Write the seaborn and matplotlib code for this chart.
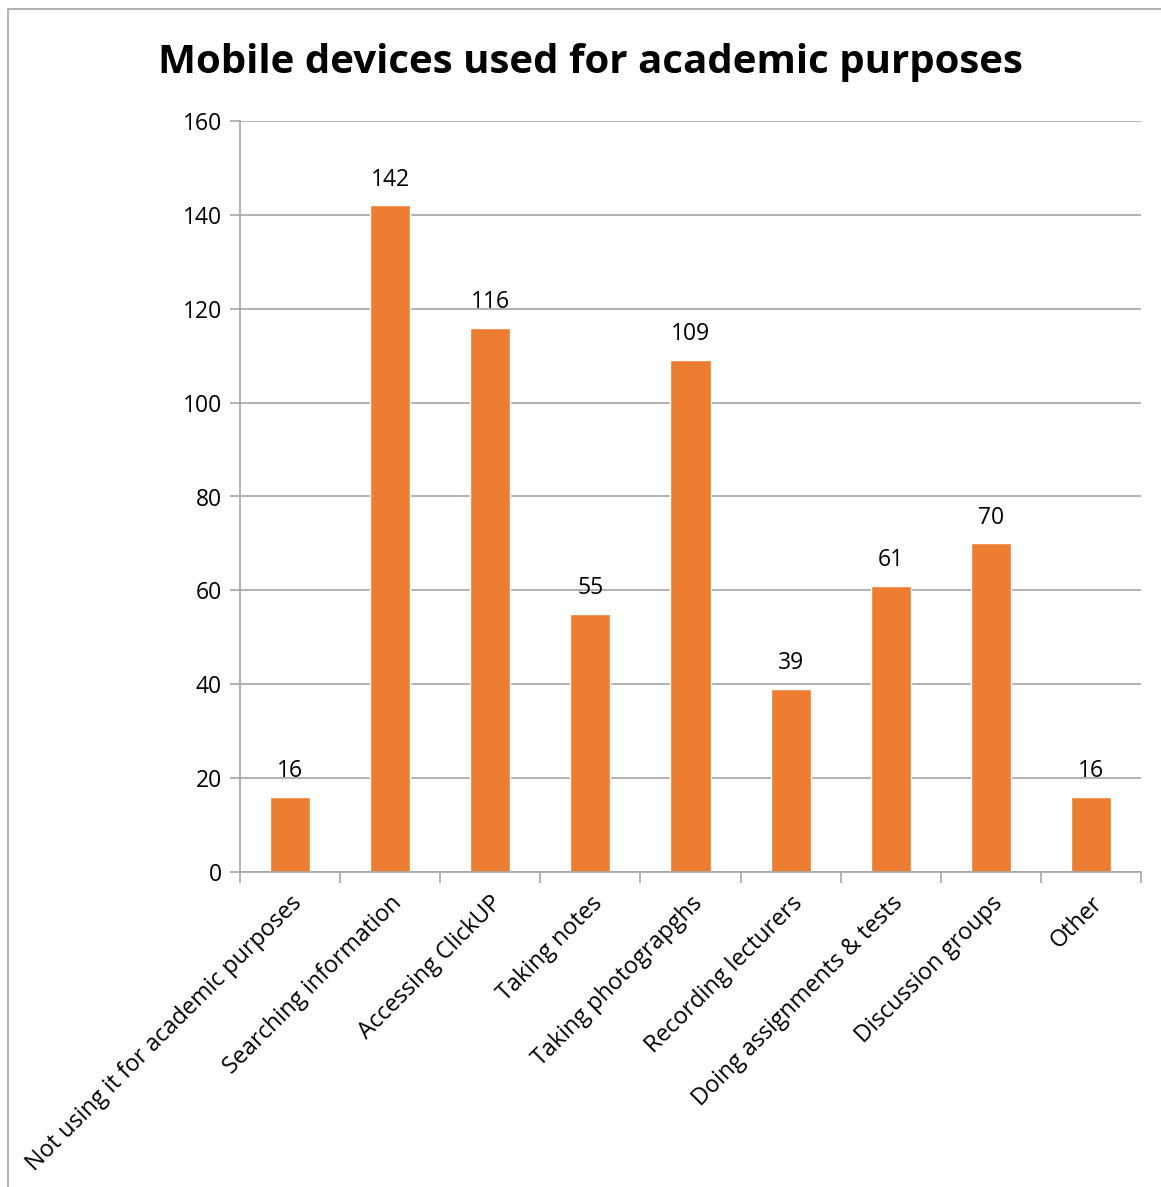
import matplotlib
matplotlib.use("Agg")
import matplotlib.pyplot as plt
import seaborn as sns
import pandas as pd
import numpy as np
from matplotlib.patches import Rectangle

categories = ["Not using it for academic purposes", "Searching information", "Accessing ClickUP",
              "Taking notes", "Taking photograpghs", "Recording lecturers",
              "Doing assignments & tests", "Discussion groups", "Other"]
values = [16, 142, 116, 55, 109, 39, 61, 70, 16]
y_ticks = [0, 20, 40, 60, 80, 100, 120, 140, 160]
title = "Mobile devices used for academic purposes"

sns.set_theme(style="white")
plt.rcParams['font.family'] = ['Open Sans', 'DejaVu Sans']
plt.rcParams['text.color'] = 'black'
plt.rcParams['xtick.color'] = 'black'
plt.rcParams['ytick.color'] = 'black'

W, H = 1161, 1187
fig = plt.figure(figsize=(W/100, H/100), dpi=100)
ax = fig.add_axes([240/W, 1-872/H, (1141-240)/W, (872-121)/H])

df = pd.DataFrame({"cat": categories, "val": values})
sns.barplot(data=df, x="cat", y="val", color="#ED7D31", width=0.4, saturation=1, ax=ax)

ax.set_ylim(0, 160)
ax.set_xlim(-0.5, len(categories)-0.5)
ax.set_yticks(y_ticks)
ax.yaxis.grid(True, color="#A6A6A6", linewidth=1.2)
ax.set_axisbelow(True)
ax.set_xlabel("")
ax.set_ylabel("")
for s in ["top", "right"]:
    ax.spines[s].set_visible(False)
for s in ["left", "bottom"]:
    ax.spines[s].set_color("#A6A6A6")
    ax.spines[s].set_linewidth(1.2)

ax.tick_params(axis="y", length=7, color="#A6A6A6", labelcolor="black", width=1.2,
               labelsize=16.5, pad=6, left=True)
ax.set_xticks(range(len(categories)))
ax.set_xticklabels(categories, rotation=45, ha="right", rotation_mode="anchor",
                   fontsize=16.8, color="black")
ax.tick_params(axis="x", which="major", length=0, pad=14)
ax.set_xticks(np.arange(-0.5, len(categories), 1), minor=True)
ax.tick_params(axis="x", which="minor", length=8, color="#A6A6A6", width=1.2, bottom=True)

for i, v in enumerate(values):
    ax.annotate(str(v), (i, v), xytext=(0, 10), textcoords="offset points",
                ha="center", va="bottom", fontsize=16.5, color="black")

fig.text(590/W, 1-62/H, title, ha="center", va="center", fontsize=29,
         fontweight="bold", color="black")

fig.patches.append(Rectangle((8/W, -0.1), 1.2, 1-9/H+0.1, transform=fig.transFigure,
                             fill=False, edgecolor="#A6A6A6", linewidth=1.2))

fig.savefig("out.png", dpi=100)
